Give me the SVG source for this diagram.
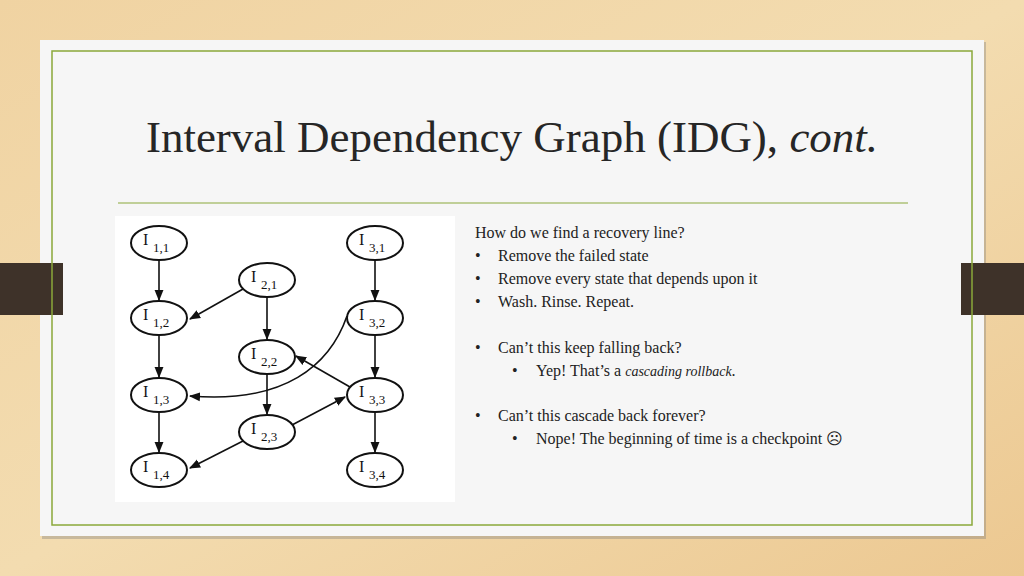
<svg xmlns="http://www.w3.org/2000/svg" width="1024" height="576" viewBox="0 0 1024 576">
<defs>
<linearGradient id="wood" x1="0" y1="0" x2="1" y2="1"><stop offset="0" stop-color="#f0d3a2"/><stop offset="0.5" stop-color="#f3dcb0"/><stop offset="1" stop-color="#ecc891"/></linearGradient>
<marker id="ah" viewBox="0 0 10 10" refX="9" refY="5" markerWidth="7" markerHeight="7" orient="auto"><path d="M0,1 L10,5 L0,9 z" fill="#111"/></marker>
<style>
.n ellipse{fill:#fff;stroke:#111;stroke-width:2}
.n text{font-family:"Liberation Serif",serif;fill:#111}
.e{stroke:#111;stroke-width:1.6;fill:none;marker-end:url(#ah)}
.b{font-family:"Liberation Serif",serif;font-size:16px;fill:#222}
.i{font-family:"Liberation Serif",serif;font-style:italic;font-size:14px}
</style>
</defs>
<rect width="1024" height="576" fill="url(#wood)"/>
<rect x="42" y="42" width="944" height="497" fill="#777" opacity="0.35"/>
<rect x="40" y="40" width="944" height="496" fill="#f6f6f6"/>
<rect x="0" y="263" width="63" height="52" fill="#3e3229"/>
<rect x="961" y="263" width="63" height="52" fill="#3e3229"/>
<rect x="52" y="51" width="920" height="474" fill="none" stroke="#8aa83a" stroke-width="1.5"/>
<text x="512" y="152" text-anchor="middle" font-family="Liberation Serif,serif" font-size="45" fill="#262626">Interval Dependency Graph (IDG), <tspan font-style="italic">cont.</tspan></text>
<line x1="118" y1="203" x2="908" y2="203" stroke="#8aa83a" stroke-width="1.2"/>
<rect x="115" y="216" width="340" height="286" fill="#fff"/>
<g id="connectors">
<line class="e" x1="159" y1="260" x2="159" y2="300"/>
<line class="e" x1="159" y1="335" x2="159" y2="377"/>
<line class="e" x1="159" y1="412" x2="159" y2="452"/>
<line class="e" x1="267" y1="297" x2="267" y2="339"/>
<line class="e" x1="267" y1="374" x2="267" y2="414"/>
<line class="e" x1="375" y1="260" x2="375" y2="300"/>
<line class="e" x1="375" y1="335" x2="375" y2="377"/>
<line class="e" x1="375" y1="412" x2="375" y2="452"/>
<line class="e" x1="243" y1="289" x2="190" y2="319"/>
<line class="e" x1="350" y1="387" x2="296" y2="356"/>
<line class="e" x1="292" y1="425" x2="345" y2="397"/>
<line class="e" x1="243" y1="441" x2="190" y2="468"/>
<path class="e" d="M347,316 C330,365 285,404 190,396"/>
</g>
<g id="I11" class="n"><ellipse cx="159" cy="243" rx="28" ry="17"/><text x="143" y="245" font-size="16">I</text><text x="153" y="252" font-size="13">1,1</text></g>
<g id="I12" class="n"><ellipse cx="159" cy="318" rx="28" ry="17"/><text x="143" y="320" font-size="16">I</text><text x="153" y="327" font-size="13">1,2</text></g>
<g id="I13" class="n"><ellipse cx="159" cy="395" rx="28" ry="17"/><text x="143" y="397" font-size="16">I</text><text x="153" y="404" font-size="13">1,3</text></g>
<g id="I14" class="n"><ellipse cx="159" cy="470" rx="28" ry="17"/><text x="143" y="472" font-size="16">I</text><text x="153" y="479" font-size="13">1,4</text></g>
<g id="I21" class="n"><ellipse cx="267" cy="280" rx="28" ry="17"/><text x="251" y="282" font-size="16">I</text><text x="261" y="289" font-size="13">2,1</text></g>
<g id="I22" class="n"><ellipse cx="267" cy="357" rx="28" ry="17"/><text x="251" y="359" font-size="16">I</text><text x="261" y="366" font-size="13">2,2</text></g>
<g id="I23" class="n"><ellipse cx="267" cy="432" rx="28" ry="17"/><text x="251" y="434" font-size="16">I</text><text x="261" y="441" font-size="13">2,3</text></g>
<g id="I31" class="n"><ellipse cx="375" cy="243" rx="28" ry="17"/><text x="359" y="245" font-size="16">I</text><text x="369" y="252" font-size="13">3,1</text></g>
<g id="I32" class="n"><ellipse cx="375" cy="318" rx="28" ry="17"/><text x="359" y="320" font-size="16">I</text><text x="369" y="327" font-size="13">3,2</text></g>
<g id="I33" class="n"><ellipse cx="375" cy="395" rx="28" ry="17"/><text x="359" y="397" font-size="16">I</text><text x="369" y="404" font-size="13">3,3</text></g>
<g id="I34" class="n"><ellipse cx="375" cy="470" rx="28" ry="17"/><text x="359" y="472" font-size="16">I</text><text x="369" y="479" font-size="13">3,4</text></g>
<g id="text">
<text x="475" y="238" class="b">How do we find a recovery line?</text>
<text x="475" y="261" class="b">•</text><text x="498" y="261" class="b">Remove the failed state</text>
<text x="475" y="284" class="b">•</text><text x="498" y="284" class="b">Remove every state that depends upon it</text>
<text x="475" y="307" class="b">•</text><text x="498" y="307" class="b">Wash. Rinse. Repeat.</text>
<text x="475" y="353" class="b">•</text><text x="498" y="353" class="b">Can’t this keep falling back?</text>
<text x="512" y="376" class="b">•</text><text x="536" y="376" class="b">Yep! That’s a <tspan class="i">cascading rollback</tspan>.</text>
<text x="475" y="421" class="b">•</text><text x="498" y="421" class="b">Can’t this cascade back forever?</text>
<text x="512" y="444" class="b">•</text><text x="536" y="444" class="b">Nope! The beginning of time is a checkpoint ☹</text>
</g>
</svg>
